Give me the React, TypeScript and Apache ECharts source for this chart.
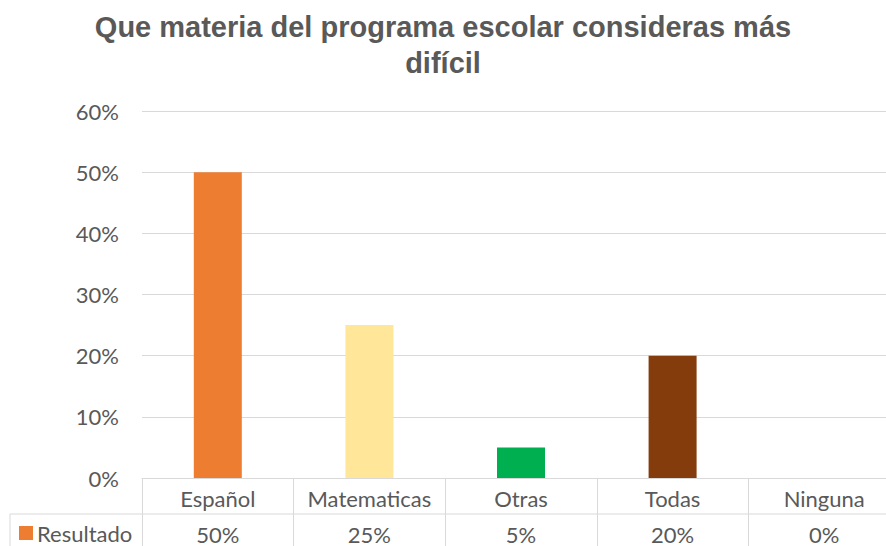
import React, { useEffect, useRef } from "react";
import * as echarts from "echarts";

const titleText = "Que materia del programa escolar consideras más\ndifícil";
const categories = ["Español", "Matematicas", "Otras", "Todas", "Ninguna"];
const values = [0.5, 0.25, 0.05, 0.2, 0];
const barColors = ["#ED7D31", "#FFE699", "#00B050", "#843C0C", "#A5A5A5"];
const seriesName = "Resultado";
const yTicks = { min: 0, max: 0.6, interval: 0.1 };

const FONT = "Lato, 'Open Sans', sans-serif";

export default function App() {
  const ref = useRef<HTMLDivElement>(null);
  useEffect(() => {
    if (!ref.current) return;
    const chart = echarts.init(ref.current, undefined, {
      renderer: "svg",
      width: 886,
      height: 546,
    });
    const pct = (v: number) => `${Math.round(v * 100)}%`;
    chart.setOption({
      animation: false,
      backgroundColor: "#ffffff",
      title: {
        text: titleText,
        left: "center",
        top: 9,
        padding: 0,
        textStyle: {
          fontFamily: "'Liberation Sans', Arial, sans-serif",
          fontWeight: "bold",
          fontSize: 29,
          color: "#595959",
          lineHeight: 36,
        },
      },
      legend: {
        show: true,
        left: 19,
        top: 522,
        padding: 0,
        icon: "rect",
        itemWidth: 14,
        itemHeight: 14,
        itemGap: 4,
        textStyle: { fontFamily: FONT, fontSize: 22, color: "#595959", padding: [0, 0, 0, -1] },
        data: [{ name: seriesName, itemStyle: { color: barColors[0] } }],
      },
      grid: {
        left: 142,
        right: -14,
        top: 111,
        bottom: 68,
        containLabel: false,
        outerBoundsMode: "none",
      },
      xAxis: {
        type: "category",
        data: categories,
        axisLine: { show: true, lineStyle: { color: "#D9D9D9", width: 1 } },
        axisTick: { show: true, length: 68, inside: false, lineStyle: { color: "#D9D9D9" } },
        axisLabel: {
          interval: 0,
          margin: 2,
          fontFamily: FONT,
          fontSize: 22,
          color: "#595959",
          lineHeight: 36,
          formatter: (v: string, i: number) => `${v}\n${pct(values[i])}`,
        },
      },
      yAxis: {
        type: "value",
        min: yTicks.min,
        max: yTicks.max,
        interval: yTicks.interval,
        axisLine: { show: false },
        axisTick: { show: false },
        splitLine: { lineStyle: { color: "#D9D9D9", width: 1 } },
        axisLabel: {
          margin: 23,
          fontFamily: FONT,
          fontSize: 22,
          color: "#595959",
          formatter: (v: number) => pct(v),
        },
      },
      series: [
        {
          name: seriesName,
          type: "bar",
          barWidth: 48,
          data: values.map((v, i) => ({ value: v, itemStyle: { color: barColors[i] } })),
        },
      ],
      graphic: [
        {
          type: "line",
          shape: { x1: 10, y1: 514, x2: 886, y2: 514 },
          style: { stroke: "#D9D9D9", lineWidth: 1 },
        },
        {
          type: "line",
          shape: { x1: 10, y1: 514, x2: 10, y2: 546 },
          style: { stroke: "#D9D9D9", lineWidth: 1 },
        },
      ],
    });
    return () => chart.dispose();
  }, []);
  return (
    <div
      ref={ref}
      style={{ position: "fixed", left: 0, top: 0, width: 886, height: 546 }}
    />
  );
}
